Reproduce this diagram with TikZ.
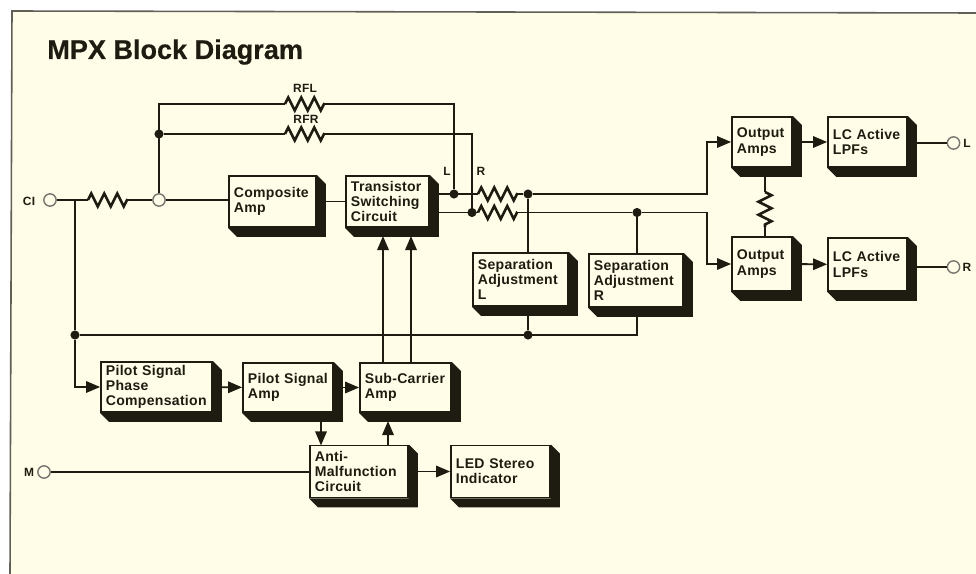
\documentclass[tikz,border=0pt]{standalone}
\usepackage{fontspec}
\setmainfont[LetterSpace=2]{Liberation Sans}
\newfontfamily\titlefont[FakeBold=0.5]{Liberation Sans Bold}
\usepackage{xcolor}
\usetikzlibrary{arrows.meta, calc, decorations.pathmorphing}

\definecolor{paper}{HTML}{FFFDE8}
\definecolor{ink}{HTML}{1E1C10}

\tikzset{
  block/.style 2 args={draw=ink, fill=paper, line width=1pt, align=left, inner xsep=2.8pt, inner ysep=0pt,
      text=ink, font=\bfseries\fontsize{8}{8.7}\selectfont,
      text width=#1*0.02cm-5.6pt, minimum height=#2*0.02cm},
  wire/.style={draw=ink, line width=1.1pt},
  feed/.style={wire, -{Triangle[length=8pt,width=6.5pt]}},
  res/.style={wire, line width=1.5pt, decoration={zigzag, segment length=13*0.02cm, amplitude=6.5*0.02cm}, decorate},
  dot/.style={circle, fill=ink, inner sep=0pt, minimum size=5.2pt},
  port/.style={circle, draw=ink!60, fill=paper, line width=0.8pt, inner sep=0pt, minimum size=7pt},
  lbl/.style={text=ink, font=\bfseries\fontsize{6.8}{8}\selectfont, inner sep=0pt},
}

\begin{document}
\begin{tikzpicture}[x=0.02cm, y=-0.02cm]
  \useasboundingbox (0,0) rectangle (976,574);
  \fill[paper] (11,11) -- (976,13) -- (976,574) -- (10,574) -- cycle;
  \draw[ink!70, line width=0.9pt] (10,574) -- (12,11) -- (976,13);

  \node[text=ink, font=\titlefont\fontsize{15.4}{17}\selectfont, anchor=west, inner sep=0pt]
      (title) at (47,52) {MPX Block Diagram};

  % blocks
  \node[block={87}{51}]  (amp)   at (272.5,201.5) {Composite\\Amp};
  \node[block={83}{51}]  (sw)    at (387.5,201.5) {Transistor\\Switching\\Circuit};
  \node[block={95}{53}]  (sepl)  at (520.5,279.5) {Separation\\Adjustment\\L};
  \node[block={94}{53}]  (sepr)  at (636,280.5)   {Separation\\Adjustment\\R};
  \node[block={60}{50}]  (outl)  at (762,142)     {Output\\Amps};
  \node[block={79}{50}]  (lpfl)  at (867.5,142)   {LC Active\\LPFs};
  \node[block={60}{54}]  (outr)  at (762,264)     {Output\\Amps};
  \node[block={79}{53}]  (lpfr)  at (867.5,264.5) {LC Active\\LPFs};
  \node[block={111}{50}] (phase) at (156.5,387)   {Pilot Signal\\Phase\\Compensation};
  \node[block={90}{49}]  (pilot) at (288,387.5)   {Pilot Signal\\Amp};
  \node[block={91}{49}]  (sub)   at (405.5,387.5) {Sub-Carrier\\Amp};
  \node[block={98}{52}]  (anti)  at (359,471.5)   {Anti-\\Malfunction\\Circuit};
  \node[block={99}{52}]  (led)   at (500.5,471.5) {LED Stereo\\Indicator};

  % terminals
  \node[port] (ci)   at (50,200)  {};
  \node[port] (comp) at (159,200) {};
  \node[port] (m)    at (44,472)  {};
  \node[port] (outpl) at (953.5,143) {};
  \node[port] (outpr) at (953.5,267) {};

  % junctions
  \node[dot] (rfrj)  at (159,134) {};
  \node[dot] (lj)    at (454,194) {};
  \node[dot] (rj)    at (472,212.5) {};
  \node[dot] (slj)   at (528,194) {};
  \node[dot] (srj)   at (637,212.5) {};
  \node[dot] (cij)   at (75,335)  {};
  \node[dot] (sbj)   at (528,335) {};

  % labels
  \node[lbl] (lcin)  at (29,201)  {CI};
  \node[lbl] (lm)    at (29,472)  {M};
  \node[lbl] (lrfl)  at (305,88)  {RFL};
  \node[lbl] (lrfr)  at (306,119) {RFR};
  \node[lbl] (ll)    at (447,171) {L};
  \node[lbl] (lr)    at (481,171) {R};
  \node[lbl] (lol)   at (967,143) {L};
  \node[lbl] (lor)   at (967,267) {R};

  % resistor ends and bends
  \coordinate (ra)    at (88,200);
  \coordinate (rb)    at (127,200);
  \coordinate (rfla)  at (285,104);
  \coordinate (rflb)  at (324,104);
  \coordinate (rfra)  at (285,134);
  \coordinate (rfrb)  at (324,134);
  \coordinate (rla)   at (478,194);
  \coordinate (rlb)   at (517,194);
  \coordinate (rra)   at (478,212.5);
  \coordinate (rrb)   at (517,212.5);
  \coordinate (rca)   at (765,192);
  \coordinate (rcb)   at (765,227);
  \coordinate (cit)   at (75,200);
  \coordinate (bendl) at (707,194);
  \coordinate (bendr) at (707,212.5);
  \coordinate (swa)   at (383,236);
  \coordinate (swb)   at (411,236);
  \coordinate (suba)  at (383,363);
  \coordinate (subb)  at (411,363);
  \coordinate (subc)  at (388,421);
  \coordinate (pilb)  at (321,421);
  \coordinate (antt)  at (321,445.5);

  % connectors
  \draw[wire] (ci) -- (ra);
  \draw[res]  (ra) -- (rb);
  \draw[wire] (rb) -- (comp);
  \draw[wire] (comp) -- (amp.west |- comp);
  \draw[wire] (amp) -- (sw);
  \draw[wire] (comp) |- (rfla);
  \draw[res]  (rfla) -- (rflb);
  \draw[wire] (rflb) -| (lj);
  \draw[wire] (rfrj) -- (rfra);
  \draw[res]  (rfra) -- (rfrb);
  \draw[wire] (rfrb) -| (rj);
  \draw[wire] (sw.east |- lj) -- (rla);
  \draw[wire] (sw.east |- rj) -- (rra);
  \draw[res]  (rla) -- (rlb);
  \draw[res]  (rra) -- (rrb);
  \draw[wire] (rlb) -- (slj);
  \draw[wire] (rrb) -- (srj);
  \draw[feed] (slj) -- (bendl) |- (outl.west);
  \draw[feed] (srj) -- (bendr) |- (outr.west);
  \draw[wire] (slj) -- (sepl.north -| slj);
  \draw[wire] (srj) -- (sepr.north -| srj);
  \draw[wire] (sepl.south -| sbj) -- (sbj);
  \draw[wire] (sepr.south -| srj) |- (cij);
  \draw[wire] (cit) -- (cij);
  \draw[feed] (cij) |- (phase.west);
  \draw[feed] (phase) -- (pilot);
  \draw[feed] (pilot) -- (sub);
  \draw[feed] (suba) -- (swa);
  \draw[feed] (subb) -- (swb);
  \draw[feed] (pilb) -- (antt);
  \draw[feed] (anti.north -| subc) -- (subc);
  \draw[feed] (anti) -- (led);
  \draw[wire] (m) -- (anti.west |- m);
  \draw[feed] (outl) -- (lpfl);
  \draw[feed] (outr) -- (lpfr);
  \draw[wire] (lpfl.east |- outpl) -- (outpl);
  \draw[wire] (lpfr.east |- outpr) -- (outpr);
  \draw[wire] (outl.south -| rca) -- (rca);
  \draw[res]  (rca) -- (rcb);
  \draw[wire] (rcb) -- (outr.north -| rcb);

  % block shadows
  \foreach \b in {amp,sw,sepl,sepr,outl,lpfl,outr,lpfr,phase,pilot,sub,anti,led}
    \fill[ink] (\b.north east) -- ++(9,9) -- ($(\b.south east)+(9,9)$) -- ($(\b.south west)+(9,9)$)
      -- (\b.south west) -- (\b.south east) -- cycle;
\end{tikzpicture}
\end{document}
